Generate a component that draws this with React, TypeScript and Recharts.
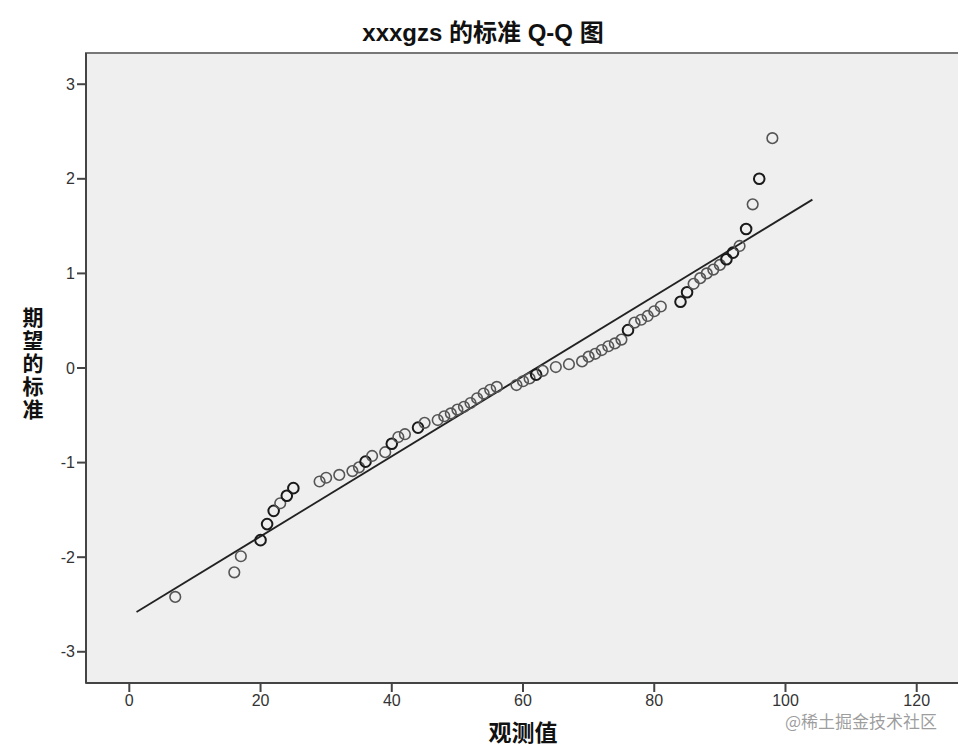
import { ScatterChart, Scatter, XAxis, YAxis, ReferenceArea, ReferenceLine } from 'recharts';

const observed = [
  7, 16, 17, 20, 21, 22, 23, 24, 25, 29, 30, 32, 34, 35, 36, 37, 39, 40, 41, 42,
  44, 45, 47, 48, 49, 50, 51, 52, 53, 54, 55, 56, 59, 60, 61, 62, 63, 65, 67, 69,
  70, 71, 72, 73, 74, 75, 76, 77, 78, 79, 80, 81, 84, 85, 86, 87, 88, 89, 90, 91,
  92, 93, 94, 95, 96, 98,
];
const expected = [
  -2.42, -2.16, -1.99, -1.82, -1.65, -1.51, -1.43, -1.35, -1.27, -1.2, -1.16, -1.13, -1.09, -1.05, -0.99, -0.93, -0.89, -0.8, -0.73, -0.7,
  -0.63, -0.58, -0.55, -0.51, -0.48, -0.44, -0.41, -0.37, -0.32, -0.27, -0.23, -0.2, -0.18, -0.14, -0.11, -0.07, -0.03, 0.01, 0.04, 0.07,
  0.12, 0.15, 0.19, 0.23, 0.26, 0.3, 0.4, 0.48, 0.51, 0.55, 0.6, 0.65, 0.7, 0.8, 0.89, 0.95, 1.0, 1.04, 1.09, 1.15,
  1.22, 1.29, 1.47, 1.73, 2.0, 2.43,
];
// values drawn with darker circles (several cases on the same spot)
const tiedValues = [20, 21, 22, 24, 25, 36, 40, 44, 62, 76, 84, 85, 91, 92, 94, 96];

// reference line end points
const lineX = [1.1, 104.1];
const lineY = [-2.58, 1.78];

const xTicks = [0, 20, 40, 60, 80, 100, 120];
const yTicks = [-3, -2, -1, 0, 1, 2, 3];

const X_DOMAIN: [number, number] = [-6.6, 126.9];
const Y_DOMAIN: [number, number] = [-3.33, 3.33];

const points = observed.map((x, i) => ({ x, y: expected[i], tied: tiedValues.includes(x) }));

const Ring = (props: any) => {
  const { cx, cy, payload } = props;
  return (
    <circle
      cx={cx}
      cy={cy}
      r={5.3}
      fill="none"
      stroke={payload.tied ? '#1a1a1a' : '#555'}
      strokeWidth={payload.tied ? 2 : 1.6}
    />
  );
};

const FONT = '"Liberation Sans", Arial, "Noto Sans CJK SC", sans-serif';

export default function App() {
  return (
    <div style={{ position: 'relative', width: 958, height: 741, overflow: 'hidden', fontFamily: FONT }}>
      <div
        style={{
          position: 'absolute', top: 11, left: 0, width: 950, textAlign: 'center',
          fontSize: 24, fontWeight: 'bold', lineHeight: '28px', color: '#111',
        }}
      >
        xxxgzs 的标准 Q-Q 图
      </div>
      <div
        style={{
          position: 'absolute', top: 298, left: 13, width: 24, textAlign: 'center',
          fontSize: 21, fontWeight: 'bold', lineHeight: '23px', color: '#111',
        }}
      >
        {'期望的标准'.split('').map((c, i) => (
          <div key={i}>{c}</div>
        ))}
      </div>
      <div
        style={{
          position: 'absolute', top: 711, left: 455, width: 120, textAlign: 'center',
          fontSize: 23, fontWeight: 'bold', lineHeight: '28px', color: '#111',
        }}
      >
        观测值
      </div>
      <ScatterChart width={958} height={741} margin={{ top: 45, right: 4, left: 0, bottom: 36 }}>
        <ReferenceArea
          x1={X_DOMAIN[0]}
          x2={X_DOMAIN[1]}
          y1={Y_DOMAIN[0]}
          y2={Y_DOMAIN[1]}
          fill="#efefef"
          fillOpacity={1}
          stroke="#777"
          strokeWidth={2}
          ifOverflow="visible"
        />
        <XAxis
          type="number"
          dataKey="x"
          domain={X_DOMAIN}
          ticks={xTicks}
          allowDataOverflow
          height={30}
          tickSize={9}
          tickMargin={3}
          axisLine={{ stroke: '#444', strokeWidth: 2 }}
          tickLine={{ stroke: '#444', strokeWidth: 2 }}
          tick={{ fill: '#333', fontSize: 16, fontFamily: FONT }}
        />
        <YAxis
          type="number"
          dataKey="y"
          domain={Y_DOMAIN}
          ticks={yTicks}
          allowDataOverflow
          width={78}
          tickSize={9}
          tickMargin={2}
          axisLine={{ stroke: '#444', strokeWidth: 2 }}
          tickLine={{ stroke: '#444', strokeWidth: 2 }}
          tick={{ fill: '#333', fontSize: 16, fontFamily: FONT }}
        />
        <ReferenceLine
          segment={[
            { x: lineX[0], y: lineY[0] },
            { x: lineX[1], y: lineY[1] },
          ]}
          stroke="#222"
          strokeWidth={1.8}
        />
        <Scatter data={points} shape={<Ring />} isAnimationActive={false} />
      </ScatterChart>
      <div
        style={{
          position: 'absolute', top: 702, left: 777, fontSize: 17, lineHeight: '22px',
          color: 'rgba(140,140,140,0.85)', fontFamily: '"Noto Sans CJK SC", sans-serif',
        }}
      >
        @稀土掘金技术社区
      </div>
    </div>
  );
}
